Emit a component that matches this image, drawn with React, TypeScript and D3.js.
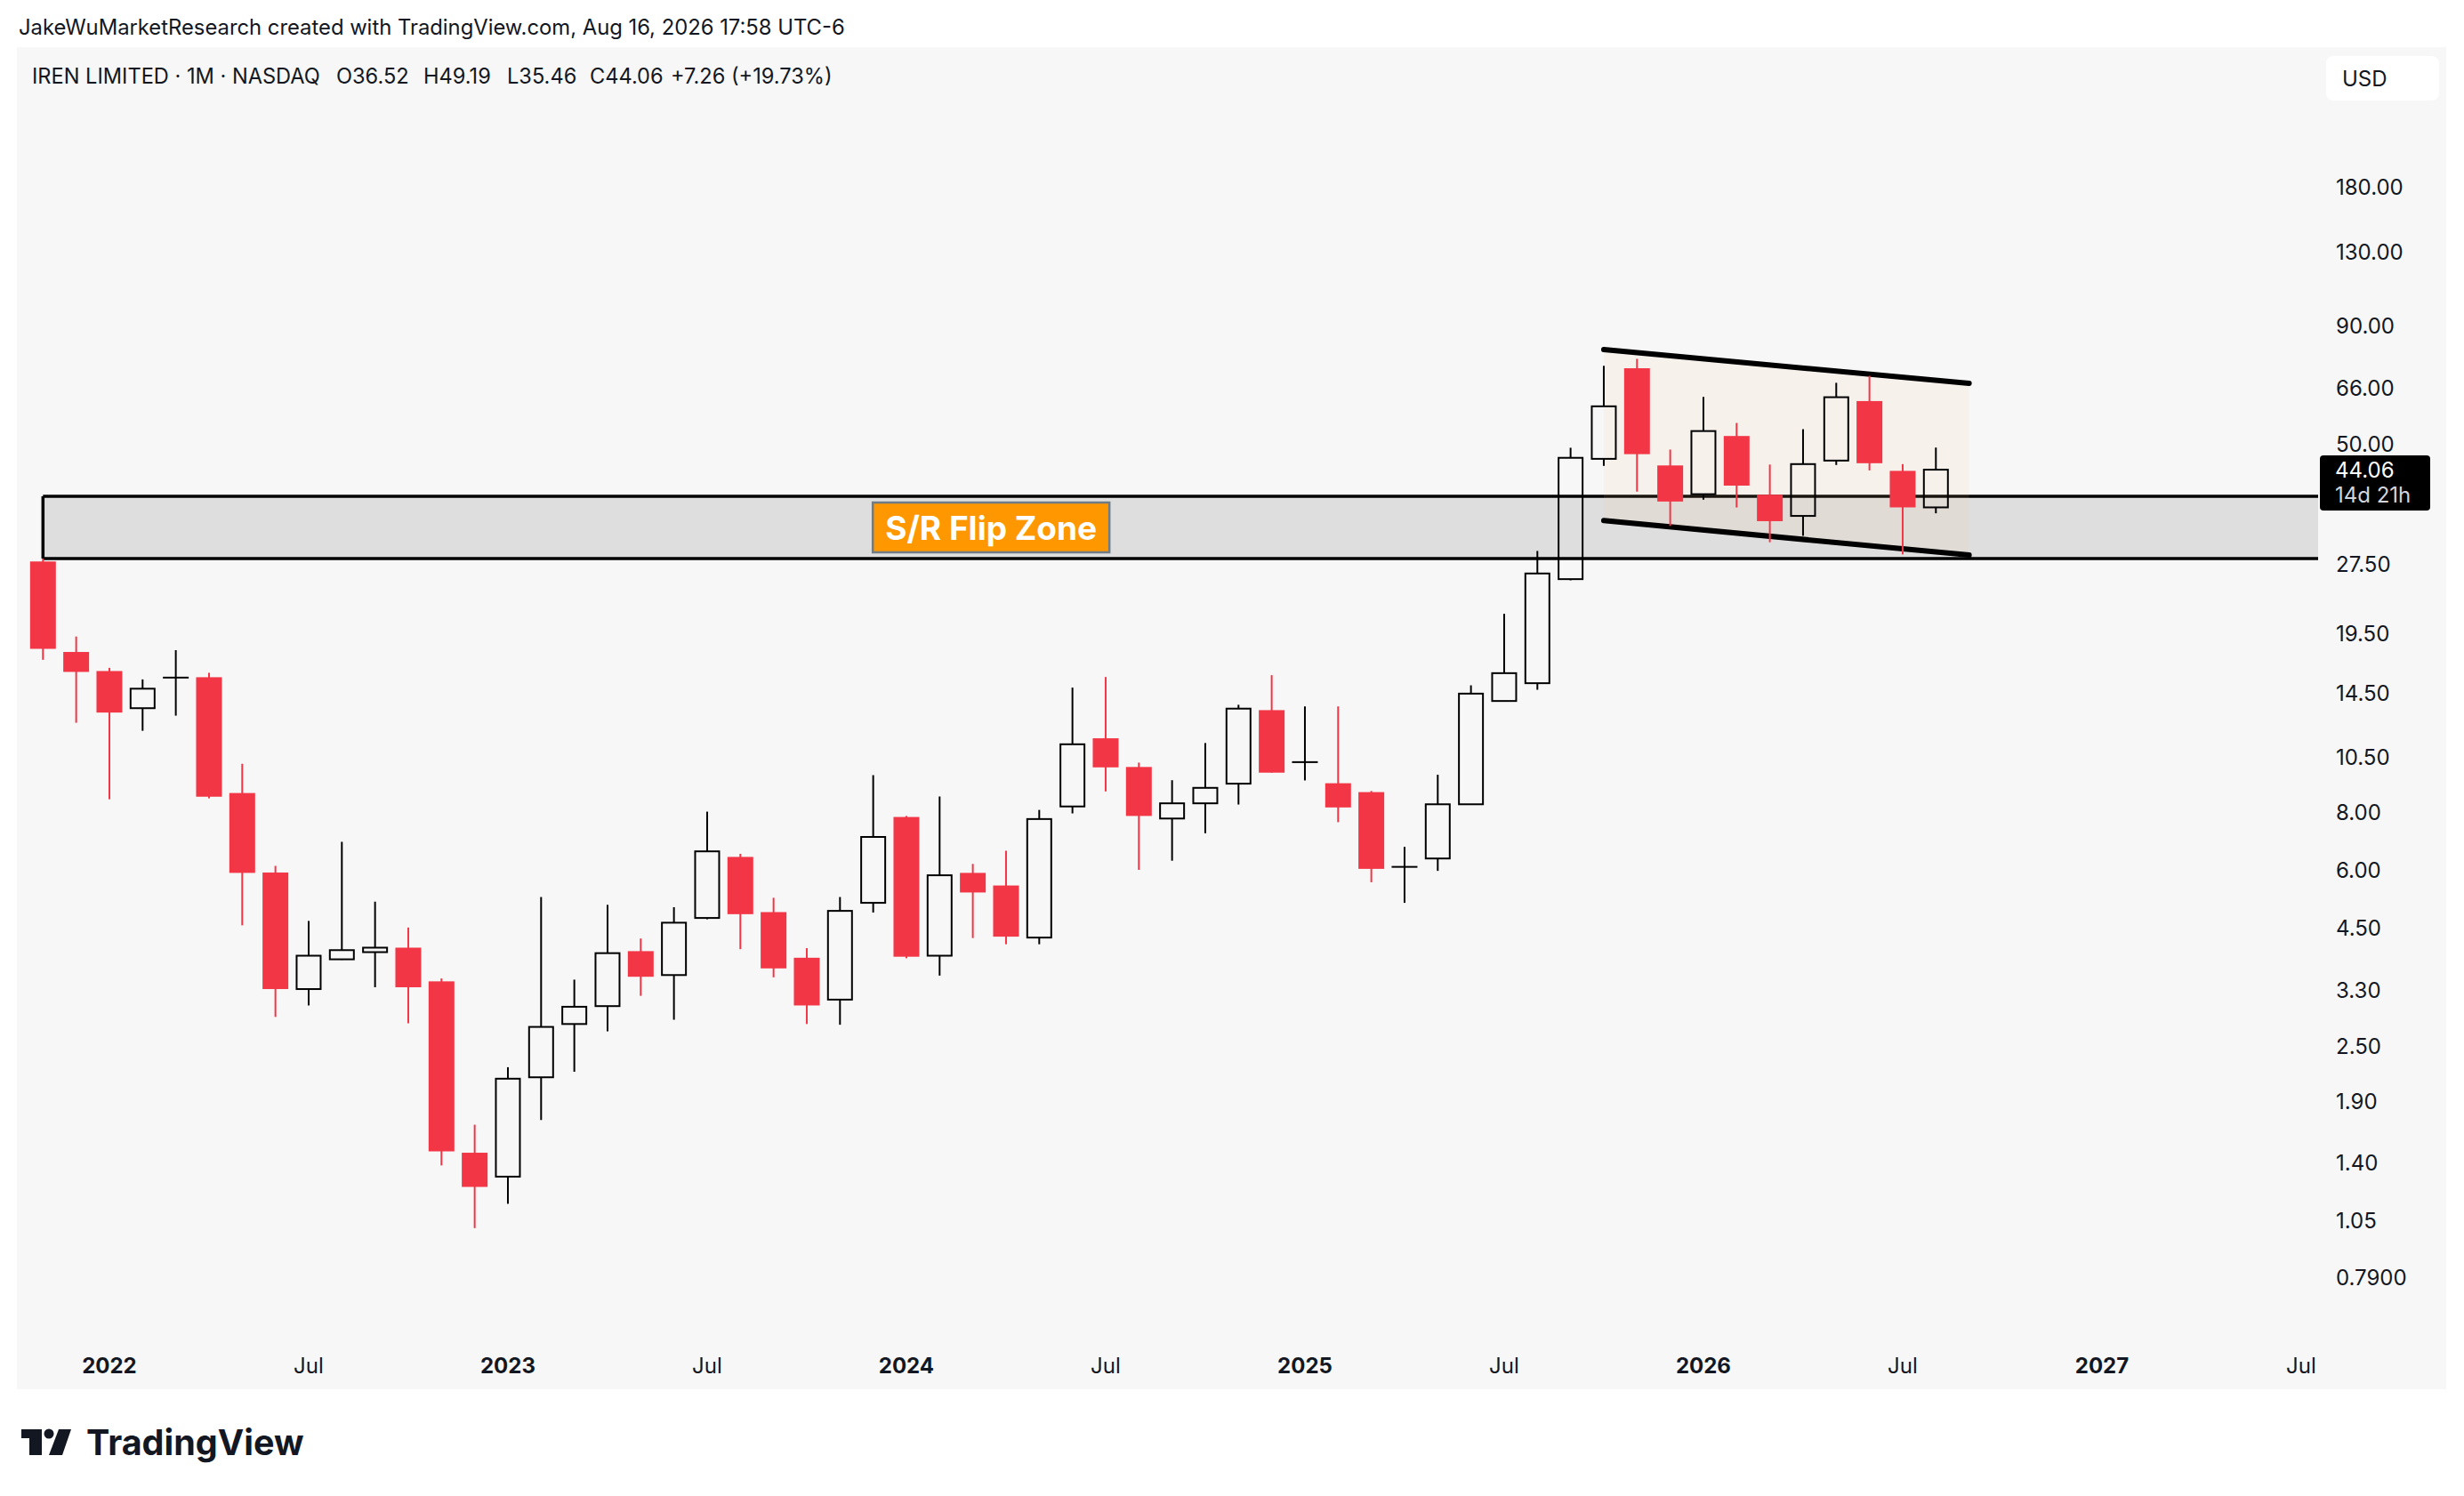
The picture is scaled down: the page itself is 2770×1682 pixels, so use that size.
import * as d3 from "d3";

// monthly candles, IREN LIMITED · 1M · NASDAQ
const months = [
  "2021-11", "2021-12",
  "2022-01", "2022-02", "2022-03", "2022-04", "2022-05", "2022-06",
  "2022-07", "2022-08", "2022-09", "2022-10", "2022-11", "2022-12",
  "2023-01", "2023-02", "2023-03", "2023-04", "2023-05", "2023-06",
  "2023-07", "2023-08", "2023-09", "2023-10", "2023-11", "2023-12",
  "2024-01", "2024-02", "2024-03", "2024-04", "2024-05", "2024-06",
  "2024-07", "2024-08", "2024-09", "2024-10", "2024-11", "2024-12",
  "2025-01", "2025-02", "2025-03", "2025-04", "2025-05", "2025-06",
  "2025-07", "2025-08", "2025-09", "2025-10", "2025-11", "2025-12",
  "2026-01", "2026-02", "2026-03", "2026-04", "2026-05", "2026-06",
  "2026-07", "2026-08",
];

const open = [
  27.9, 17.78,
  16.17, 13.44, 15.6, 15.68, 8.81, 5.93,
  3.32, 3.85, 3.99, 4.08, 3.45, 1.47,
  1.305, 2.14, 2.79, 3.05, 4.01, 3.56,
  4.73, 6.41, 4.87, 3.88, 3.15, 5.1,
  7.82, 3.92, 5.92, 5.56, 4.29, 8.24,
  11.57, 10.03, 7.76, 8.37, 9.23, 13.31,
  10.25, 9.25, 8.85, 6.08, 6.36, 8.33,
  13.93, 15.22, 25.55, 46.5, 73.0, 45.0,
  39.0, 52.1, 38.9, 35.0, 46.1, 62.0,
  43.8, 36.52,
];

const high = [
  28.3, 19.2,
  16.43, 15.51, 17.94, 16.03, 10.19, 6.13,
  4.66, 6.91, 5.13, 4.51, 3.5, 1.69,
  2.25, 5.25, 3.48, 5.05, 4.27, 4.99,
  8.03, 6.51, 5.23, 4.07, 5.25, 9.63,
  7.86, 8.66, 6.19, 6.61, 8.1, 14.89,
  15.7, 10.25, 9.39, 11.3, 13.67, 15.84,
  13.56, 13.56, 8.9, 6.74, 9.65, 15.06,
  21.5, 29.4, 49.14, 73.9, 76.5, 48.7,
  63.3, 55.6, 45.2, 53.9, 67.9, 70.3,
  45.3, 49.19,
];

const low = [
  17.1, 12.5,
  8.54, 12.01, 12.95, 8.58, 4.56, 2.89,
  3.06, 3.84, 3.35, 2.8, 1.38, 1.01,
  1.14, 1.73, 2.2, 2.69, 3.21, 2.85,
  4.7, 4.05, 3.52, 2.79, 2.78, 4.86,
  3.87, 3.55, 4.28, 4.15, 4.15, 7.96,
  8.88, 6.01, 6.29, 7.21, 8.32, 9.75,
  9.38, 7.62, 5.65, 5.1, 5.98, 8.33,
  13.93, 14.73, 25.4, 44.9, 39.5, 33.3,
  37.95, 36.5, 30.7, 31.7, 45.1, 43.9,
  28.9, 35.46,
];

const close = [
  18.06, 16.1,
  13.15, 14.81, 15.7, 8.65, 5.92, 3.32,
  3.92, 4.03, 4.08, 3.35, 1.48, 1.24,
  2.125, 2.75, 3.04, 3.97, 3.53, 4.62,
  6.59, 4.82, 3.68, 3.06, 4.9, 7.08,
  3.9, 5.85, 5.37, 4.31, 7.74, 11.23,
  10.01, 7.86, 8.37, 9.04, 13.41, 9.75,
  10.3, 8.2, 6.04, 6.12, 8.33, 14.45,
  16.0, 26.28, 46.74, 60.4, 47.6, 37.6,
  53.4, 40.7, 34.1, 45.3, 63.2, 45.5,
  36.52, 44.06,
];

const priceTicks = [180, 130, 90, 66, 50, 27.5, 19.5, 14.5, 10.5, 8, 6, 4.5, 3.3, 2.5, 1.9, 1.4, 1.05, 0.79];

const timeTickMonths = [
  "2022-01", "2022-07", "2023-01", "2023-07", "2024-01", "2024-07",
  "2025-01", "2025-07", "2026-01", "2026-07", "2027-01", "2027-07",
];
const timeTickLabels = ["2022", "Jul", "2023", "Jul", "2024", "Jul", "2025", "Jul", "2026", "Jul", "2027", "Jul"];

// drawings
const zoneStart = "2021-11";
const zoneTop = 38.6;
const zoneBottom = 28.3;
const zoneLabel = "S/R Flip Zone";
const zoneLabelMonth = "2024-03";

const channelMonths = ["2025-10", "2026-09"];
const channelUpper = [80.1, 67.7];
const channelLower = [34.2, 28.8];

const lastPrice = 44.06;
const countdown = "14d 21h";

const legendParts = ["IREN LIMITED · 1M · NASDAQ", "O36.52", "H49.19", "L35.46", "C44.06", "+7.26 (+19.73%)"];

const W = 2770;
const H = 1682;
const FONT = "Inter, Roboto, 'Noto Sans', sans-serif";
const RED = "#f23645";
const TEXT = "#131722";

const PANE = { left: 19, right: 2606, top: 53, bottom: 1500 };

function monthIndex(m: string) {
  const [yy, mm] = m.split("-").map(Number);
  return (yy - 2021) * 12 + (mm - 11);
}

const x = d3.scaleLinear().domain([-0.785, 68.51]).range([PANE.left, PANE.right]);
const y = d3.scaleLog().domain([0.79, 180]).range([1436.3, 210.2]);

function fmtPrice(v: number) {
  return v < 1 ? v.toFixed(4) : v.toFixed(2);
}

function Candles() {
  const bodyW = 29;
  return (
    <g>
      {months.map((m, i) => {
        const cx = x(monthIndex(m));
        const o = open[i], c = close[i], h = high[i], l = low[i];
        const up = c >= o;
        const top = y(Math.max(o, c));
        const bot = y(Math.min(o, c));
        const bh = bot - top;
        if (!up) {
          return (
            <g key={m}>
              <line x1={cx} x2={cx} y1={y(h)} y2={y(l)} stroke={RED} strokeWidth={2} />
              <rect x={cx - bodyW / 2} y={top} width={bodyW} height={Math.max(bh, 2)} fill={RED} />
            </g>
          );
        }
        if (bh < 3) {
          return (
            <g key={m}>
              <line x1={cx} x2={cx} y1={y(h)} y2={y(l)} stroke="#000" strokeWidth={2} />
              <line x1={cx - bodyW / 2} x2={cx + bodyW / 2} y1={(top + bot) / 2} y2={(top + bot) / 2} stroke="#000" strokeWidth={2} />
            </g>
          );
        }
        return (
          <g key={m}>
            <line x1={cx} x2={cx} y1={y(h)} y2={top} stroke="#000" strokeWidth={2} />
            <line x1={cx} x2={cx} y1={bot} y2={y(l)} stroke="#000" strokeWidth={2} />
            <rect x={cx - bodyW / 2 + 1} y={top} width={bodyW - 2} height={bh} fill="none" stroke="#000" strokeWidth={2} />
          </g>
        );
      })}
    </g>
  );
}

function Zone() {
  const x0 = x(monthIndex(zoneStart));
  const yT = y(zoneTop);
  const yB = y(zoneBottom);
  const lx = x(monthIndex(zoneLabelMonth) + 0.55);
  const ly = (yT + yB) / 2;
  return (
    <g>
      <rect x={x0} y={yT} width={PANE.right - x0} height={yB - yT} fill="#dedede" />
      <line x1={x0} x2={PANE.right} y1={yT} y2={yT} stroke="#000" strokeWidth={3.5} />
      <line x1={x0} x2={PANE.right} y1={yB} y2={yB} stroke="#000" strokeWidth={3.5} />
      <line x1={x0} x2={x0} y1={yT} y2={yB} stroke="#000" strokeWidth={3.5} />
      <rect x={lx - 133} y={ly - 28} width={266} height={56} fill="#ff9800" stroke="#6f7b85" strokeWidth={2.5} />
      <text x={lx} y={ly} textAnchor="middle" dominantBaseline="central" fill="#fff" fontFamily={FONT} fontWeight={700} fontSize={37}>
        {zoneLabel}
      </text>
    </g>
  );
}

function Channel() {
  const pts = channelMonths.map((m) => x(monthIndex(m)));
  const line = d3.line<[number, number]>();
  const upper: [number, number][] = pts.map((px, i) => [px, y(channelUpper[i])]);
  const lower: [number, number][] = pts.map((px, i) => [px, y(channelLower[i])]);
  const poly = [...upper, ...lower.slice().reverse()];
  return (
    <g>
      <path d={line(poly) + "Z"} fill="rgba(255,200,150,0.1)" />
      <path d={line(upper) ?? ""} stroke="#000" strokeWidth={6} strokeLinecap="round" fill="none" />
      <path d={line(lower) ?? ""} stroke="#000" strokeWidth={6} strokeLinecap="round" fill="none" />
    </g>
  );
}

function PriceAxis() {
  const ly = y(lastPrice);
  return (
    <g fontFamily={FONT} fontSize={24} fill={TEXT}>
      <rect x={2615} y={63} width={127} height={50} rx={8} fill="#fff" />
      <text x={2633} y={88} dominantBaseline="central">USD</text>
      {priceTicks.map((t) => (
        <text key={t} x={2626} y={y(t)} dominantBaseline="central">
          {fmtPrice(t)}
        </text>
      ))}
      <rect x={2608} y={ly - 16} width={124} height={62} rx={4} fill="#000" />
      <text x={2625} y={ly} dominantBaseline="central" fill="#fff">{fmtPrice(lastPrice)}</text>
      <text x={2625} y={ly + 28} dominantBaseline="central" fill="#d1d4dc">{countdown}</text>
    </g>
  );
}

function TimeAxis() {
  return (
    <g fontFamily={FONT} fontSize={24} fill={TEXT} textAnchor="middle">
      {timeTickMonths.map((m, i) => {
        const lab = timeTickLabels[i];
        const isYear = lab !== "Jul";
        return (
          <text key={m} x={x(monthIndex(m))} y={1544} fontWeight={isYear ? 700 : 400}>
            {lab}
          </text>
        );
      })}
    </g>
  );
}

function Logo() {
  return (
    <g fill={TEXT}>
      <path d="M24 1607 H47 V1636 H33 V1617 H24 Z" />
      <circle cx={55} cy={1612} r={5.5} />
      <path d="M66 1607 H80 L70 1636 H55 Z" />
      <text x={97} y={1636} fontFamily={FONT} fontWeight={700} fontSize={39.5}>
        TradingView
      </text>
    </g>
  );
}

export default function App() {
  const legendX = [36, 378, 476, 570, 663, 754];
  return (
    <svg width={W} height={H} style={{ position: "absolute", left: 0, top: 0, background: "#fff" }}>
      <rect x={0} y={0} width={W} height={H} fill="#fff" />
      <text x={21} y={39} fontFamily={FONT} fontSize={23.8} fill={TEXT}>
        JakeWuMarketResearch created with TradingView.com, Aug 16, 2026 17:58 UTC-6
      </text>
      <rect x={19} y={53} width={2731} height={1509} fill="#f7f7f7" />
      <defs>
        <clipPath id="pane">
          <rect x={PANE.left} y={PANE.top} width={PANE.right - PANE.left} height={PANE.bottom - PANE.top} />
        </clipPath>
      </defs>
      <g clipPath="url(#pane)">
        <Zone />
        <Channel />
        <Candles />
      </g>
      <g fontFamily={FONT} fontSize={23.6} fill={TEXT}>
        {legendParts.map((s, i) => (
          <text key={s} x={legendX[i]} y={94}>{s}</text>
        ))}
      </g>
      <PriceAxis />
      <TimeAxis />
      <Logo />
    </svg>
  );
}
